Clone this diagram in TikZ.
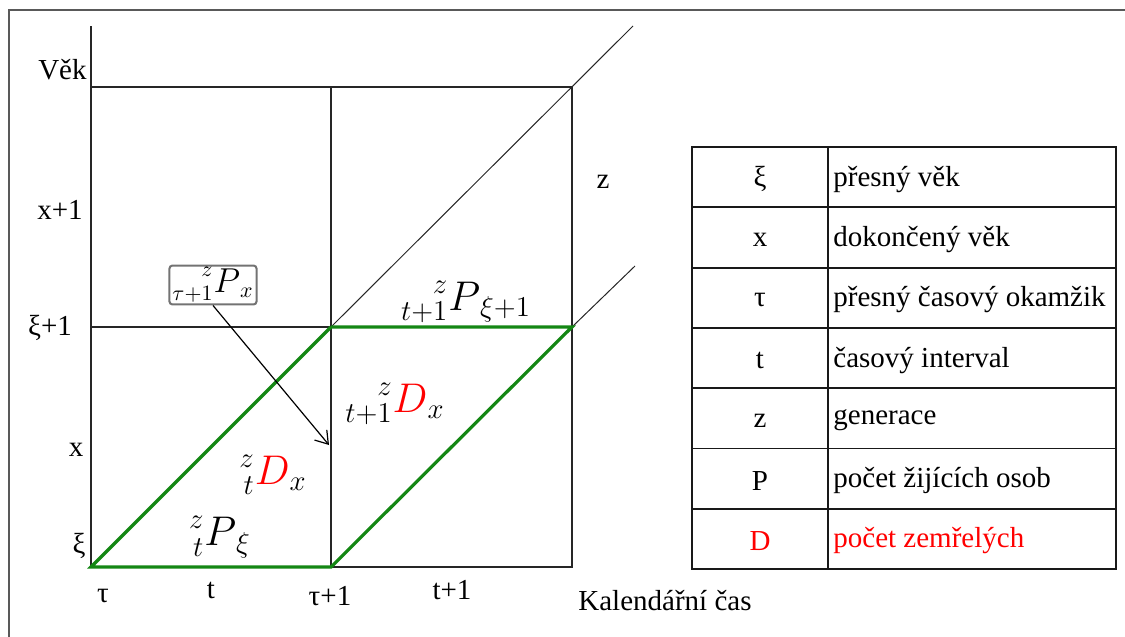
\documentclass[tikz,border=0pt]{standalone}
\usepackage{fontspec}
\usepackage{mathtools}
\setmainfont{Liberation Serif}
\newfontfamily\timesfont{Liberation Serif}
\usetikzlibrary{arrows.meta}

\definecolor{lifegreen}{RGB}{20,135,20}
\definecolor{deadred}{RGB}{255,0,0}

\tikzstyle{frame} = [line width=1pt, draw=black!65]
\tikzstyle{gridline} = [line width=0.7pt, draw=black!85]
\tikzstyle{diagline} = [line width=0.5pt, draw=black!85]
\tikzstyle{life} = [line width=1.6pt, draw=lifegreen]
\tikzstyle{axislabel} = [font=\timesfont\fontsize{14.5}{17}\selectfont, inner sep=0pt]
\tikzstyle{mathlabel} = [font=\fontsize{19.5}{22}\selectfont, inner sep=0pt]
\tikzstyle{boxlabel} = [font=\fontsize{16}{18}\selectfont, draw=black!55, line width=1pt, rounded corners=1.5pt, inner xsep=1.5pt, inner ysep=1pt]
\tikzstyle{tabline} = [line width=0.9pt, draw=black!90]
\tikzstyle{cell} = [font=\timesfont\fontsize{14.5}{17}\selectfont, inner sep=0pt]
\tikzstyle{arrow} = [line width=0.6pt, -{Straight Barb[length=6pt,width=8pt]}]

\begin{document}
\begin{tikzpicture}[x=0.5pt, y=-0.5pt]
			
			\useasboundingbox (0,0) rectangle (1125,637);
			\draw [frame] (9,637) -- (9,10) -- (1125,10);
			
			\coordinate (top) at (91,26);
			\coordinate (o) at (91,567);
			\coordinate (b1) at (331,567);
			\coordinate (b2) at (572,567);
			\coordinate (m0) at (91,327);
			\coordinate (m1) at (331,327);
			\coordinate (m2) at (572,327);
			\coordinate (t0) at (91,87);
			\coordinate (t1) at (331,87);
			\coordinate (t2) at (572,87);
			\coordinate (d1) at (633,26);
			\coordinate (d2) at (635,266);
			
			\draw [gridline] (top) -- (o) -- (b2) -- (t2) -- (t0);
			\draw [gridline] (m0) -- (m2);
			\draw [gridline] (t1) -- (b1);
			\draw [diagline] (m1) -- (d1);
			\draw [diagline] (m2) -- (d2);
			\draw [life] (m1) -- (o) -- (b1) -- (m2) -- (m1);
			
			
			\node (vek) [axislabel, anchor=east] at (87,70) {Věk};
			\node (xone) [axislabel] at (60,210) {x+1};
			\node (xione) [axislabel] at (50,328) {ξ+1};
			\node (xl) [axislabel] at (76,450) {x};
			\node (xil) [axislabel] at (79,546) {ξ};
			\node (tau) [axislabel] at (103,596) {τ};
			\node (tl) [axislabel] at (211,590) {t};
			\node (tauone) [axislabel] at (330,596) {τ+1};
			\node (tone) [axislabel] at (452,590) {t+1};
			\node (cas) [axislabel, anchor=west] at (578,601) {Kalendářní čas};
			\node (zl) [axislabel] at (603,182) {z};
			
			
			\node (ptop) [mathlabel] at (466,302) {$\prescript{z}{t+1}{P}_{\xi+1}$};
			\node (dright) [mathlabel] at (395,404) {$\prescript{z}{t+1}{\color{deadred}D}_{x}$};
			\node (dleft) [mathlabel] at (273,475) {$\prescript{z}{t}{\color{deadred}D}_{x}$};
			\node (pbottom) [mathlabel] at (220,537) {$\prescript{z}{t}{P}_{\xi}$};
			\node (pbox) [boxlabel] at (213,285) {$\prescript{z}{\tau+1}{P}_{x}$};
			\coordinate (dend) at (329,445);
			\draw [arrow] (pbox.south) -- (dend);
			
			
			\draw [tabline] (692,147) rectangle (1116,569);
			\draw [tabline] (828,147) -- (828,569);
			\foreach \i/\sym/\txt/\col in {1/ξ/přesný věk/black, 2/x/dokončený věk/black, 3/τ/přesný časový okamžik/black, 4/t/časový interval/black, 5/z/generace/black, 6/P/počet žijících osob/black, 7/D/počet zemřelých/deadred}
			{
				\node (sym\i) [cell, text=\col] at (760,{149+(\i-0.5)*60.3}) {\sym};
				\node (txt\i) [cell, text=\col, anchor=west] at (833,{149+(\i-0.5)*60.3}) {\txt};
				\ifnum\i<7
					\draw [tabline] (692,{147+\i*60.3}) -- (1116,{147+\i*60.3});
				\fi
			}
			
		\end{tikzpicture}
\end{document}
